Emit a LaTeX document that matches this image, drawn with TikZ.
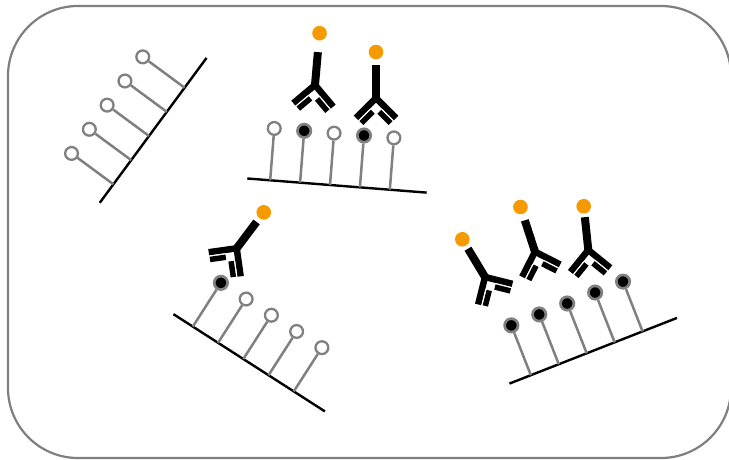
\documentclass[tikz,border=0pt]{standalone}
\usepackage{xcolor}
\definecolor{cFrame}{HTML}{7F7F7F}
\definecolor{cStem}{HTML}{808080}
\definecolor{cDot}{HTML}{F59A00}
\usepackage{tikz}
\usetikzlibrary{positioning,calc}
\tikzset{
  frame/.style={draw=cFrame,line width=2.2pt,rounded corners=70pt},
  substrate/.style={draw=black,line width=2.4pt},
  stem/.style={draw=cStem,line width=2.5pt},
  probe-o/.style={circle,draw=cStem,fill=white,line width=2.3pt,
    inner sep=0pt,minimum size=12.8pt},
  probe-f/.style={circle,draw=cStem,fill=black,line width=2.7pt,
    inner sep=0pt,minimum size=13.4pt},
  ab-chain/.style={draw=black,line cap=butt},
  % one antibody, Fc up; #1 = distance of the label dot
  antibody/.pic={
    \draw[ab-chain,line width=6.5pt] (0,0) -- (-20,20);
    \draw[ab-chain,line width=6.5pt] (0,0) -- (20,20);
    \draw[ab-chain,line width=8pt] (0,1.5) -- (0,-33);
    \draw[white,line width=8.1pt] (-3.3,13.7) -- (-14.6,25);
    \draw[white,line width=8.1pt] (3.3,13.7) -- (14.6,25);
    \draw[ab-chain,line width=5.5pt] (-3.3,13.7) -- (-14.6,25);
    \draw[ab-chain,line width=5.5pt] (3.3,13.7) -- (14.6,25);
    \fill[cDot] (0,-#1) circle (7.3pt);
  },
  pics/antibody/.default=46,
}

\begin{document}
\begin{tikzpicture}[x=1pt,y=-1pt]
  \useasboundingbox (0,0) rectangle (729,460);
  \draw[frame] (8,6) rectangle (731,458);

  % surfaces with five probes each: o = free, f = bound
  \foreach \g/\x/\y/\a/\len/\s in {
      1/149/136/53.6/52/{o,o,o,o,o},
      2/330/185/-4.5/52/{o,f,o,f,o},
      3/243.3/359/-32.7/52/{f,o,o,o,o},
      4/586.7/353.3/21.4/53.5/{f,f,f,f,f}} {
    \begin{scope}[shift={(\x,\y)},rotate=\a]
      \coordinate (s\g-l) at (-83,0);
      \coordinate (s\g-r) at (97,0);
      \draw[substrate] (s\g-l) -- (s\g-r);
      \foreach \k [count=\i] in \s {
        \coordinate (b\g-\i) at ({(\i-3)*30},0);
        \node[probe-\k] (p\g-\i) at ({(\i-3)*30},-\len) {};
        \draw[stem] (b\g-\i) -- (p\g-\i);
      }
    \end{scope}
  }

  % labelled antibodies
  \pic[rotate=-5] at (315,85) {antibody=52};
  \pic at (376,98) {antibody=46};
  \pic[rotate=-37] at (236.7,248.3) {antibody=45};
  \pic[rotate=31] at (485,277) {antibody=44};
  \pic[rotate=18] at (535,251.7) {antibody=47};
  \pic[rotate=6] at (588.3,250) {antibody=44};
\end{tikzpicture}
\end{document}
